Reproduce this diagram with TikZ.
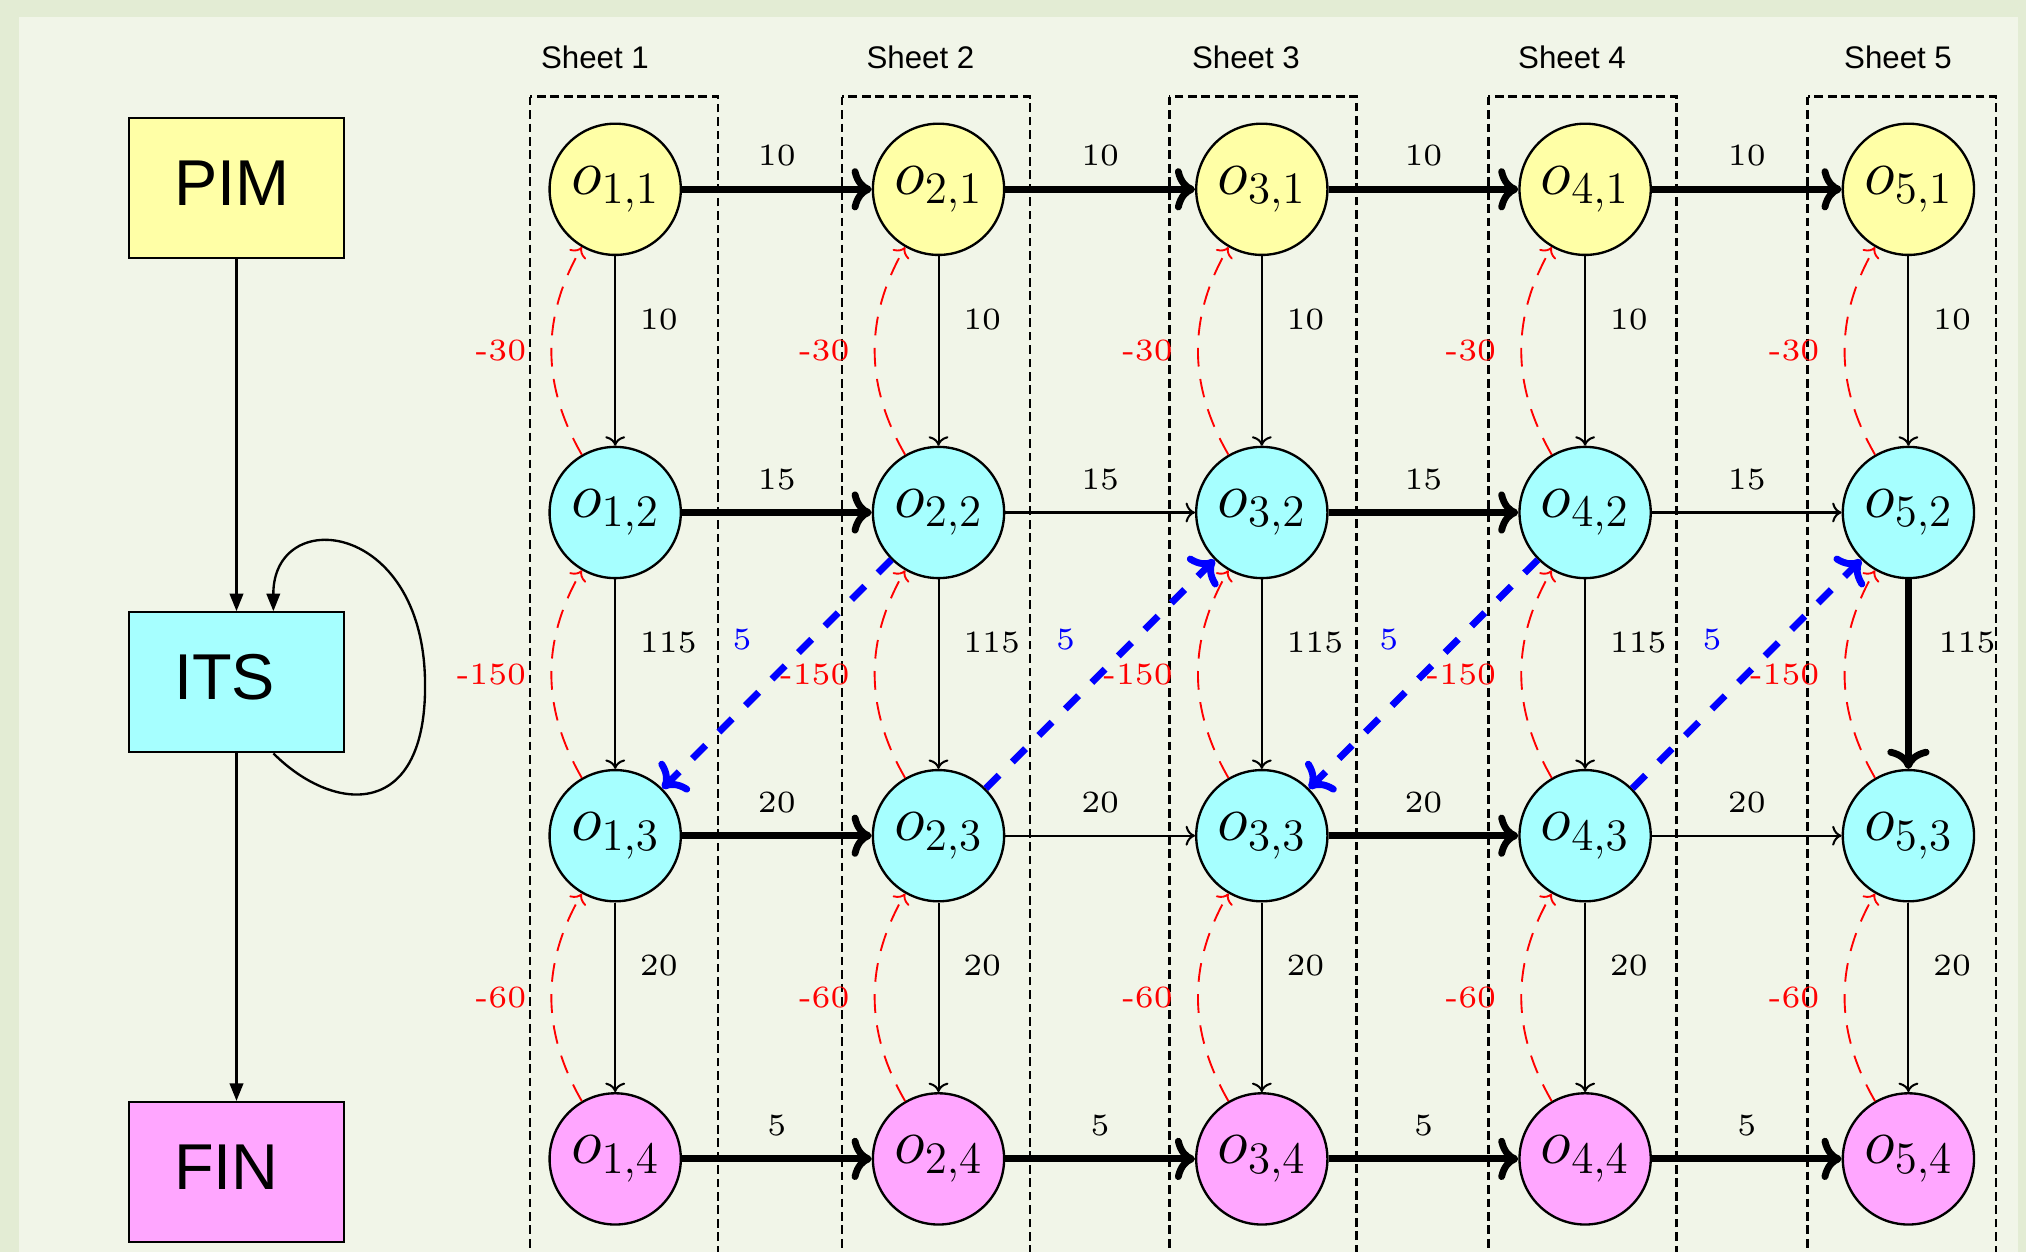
\documentclass[tikz,border=0pt]{standalone}
\usepackage{fontspec}
\newfontfamily\sheetfont{Liberation Sans}
\newfontfamily\weightfont{lmroman6-regular.otf}
\usetikzlibrary{arrows.meta}
\definecolor{framegreen}{RGB}{227,236,212}
\definecolor{panelgreen}{RGB}{241,245,232}
\definecolor{opyellow}{RGB}{255,255,166}
\definecolor{opcyan}{RGB}{166,255,255}
\definecolor{oppink}{RGB}{255,166,255}
\begin{document}
\begin{tikzpicture}[x=0.32pt, y=-0.32pt,
  op/.style={circle, draw, line width=0.75pt, minimum size=42pt, inner sep=0pt, font=\huge},
  stagebox/.style={rectangle, draw, line width=0.7pt, minimum width=68.8pt,
    minimum height=44.8pt, text width=40pt, inner xsep=14.4pt, align=left,
    font=\sheetfont\huge, text depth=3.2pt},
  flow/.style={line width=0.75pt, -{Triangle[length=5.6pt,width=4.3pt]}},
  sheetline/.style={line width=0.8pt, dash pattern=on 2.8pt off 1.5pt},
  sheetlab/.style={anchor=base, inner sep=0pt, font=\sheetfont},
  lightedge/.style={line width=0.65pt, -{Computer Modern Rightarrow}},
  heavyedge/.style={line width=2.2pt, -{Computer Modern Rightarrow}},
  backedge/.style={red, line width=0.6pt, dash pattern=on 6pt off 4pt, -{Computer Modern Rightarrow}},
  jumpedge/.style={blue, line width=2.2pt, dash pattern=on 6pt off 6pt, -{Computer Modern Rightarrow}},
  weight/.style={inner sep=0pt, font=\fontsize{9.9pt}{12pt}\weightfont},
  hlab/.style={weight, anchor=base, yshift=7.5pt},
  vlab/.style={weight, anchor=west, xshift=7.6pt},
  rlab/.style={weight, red, anchor=east, xshift=-7.8pt},
  blab/.style={weight, blue, xshift=-11.1pt, yshift=11.1pt}]

% page background with its frame
\useasboundingbox (0,0) rectangle (2026,1252);
\fill[framegreen] (0,0) rectangle (2026,1252);
\fill[panelgreen] (19,16.7) rectangle (2017.7,1252);

% sheet frames and titles
\foreach \l/\r/\c [count=\s] in {529.8/718.2/595, 842/1030/920.5, 1169.3/1356.7/1246,
    1488.4/1676.5/1572, 1807.6/1995.8/1898} {
  \draw[sheetline] (\l,96.7) rectangle (\r,1260);
  \node[sheetlab] (sheet\s) at (\c,68.3) {Sheet \s};
}

% operation nodes
\foreach \i in {1,...,5} {
  \foreach \j/\col in {1/opyellow, 2/opcyan, 3/opcyan, 4/oppink} {
    \pgfmathsetmacro{\px}{615.2+323.3*(\i-1)}
    \pgfmathsetmacro{\py}{189.3+323.2*(\j-1)}
    \node[op, fill=\col] (o-\i-\j) at (\px,\py) {$o_{\i,\j}$};
  }
}

% horizontal transitions
\foreach \i/\n/\st in {1/2/heavyedge, 2/3/heavyedge, 3/4/heavyedge, 4/5/heavyedge}
  \draw[\st] (o-\i-1) -- node[hlab] {10} (o-\n-1);
\foreach \i/\n/\st in {1/2/heavyedge, 2/3/lightedge, 3/4/heavyedge, 4/5/lightedge}
  \draw[\st] (o-\i-2) -- node[hlab] {15} (o-\n-2);
\foreach \i/\n/\st in {1/2/heavyedge, 2/3/lightedge, 3/4/heavyedge, 4/5/lightedge}
  \draw[\st] (o-\i-3) -- node[hlab] {20} (o-\n-3);
\foreach \i/\n/\st in {1/2/heavyedge, 2/3/heavyedge, 3/4/heavyedge, 4/5/heavyedge}
  \draw[\st] (o-\i-4) -- node[hlab] {5} (o-\n-4);

% vertical transitions
\foreach \i in {1,...,5} {
  \draw[lightedge] (o-\i-1) -- node[vlab, pos=0.333] {10} (o-\i-2);
  \draw[lightedge] (o-\i-3) -- node[vlab, pos=0.333] {20} (o-\i-4);
}
\foreach \i in {1,...,4}
  \draw[lightedge] (o-\i-2) -- node[vlab, pos=0.333] {115} (o-\i-3);
\draw[heavyedge] (o-5-2) -- node[vlab, pos=0.333, xshift=1pt] {115} (o-5-3);

% backward transitions
\foreach \i in {1,...,5} {
  \draw[backedge] (o-\i-2) to[bend left=30] node[rlab] {-30} (o-\i-1);
  \draw[backedge] (o-\i-3) to[bend left=30] node[rlab] {-150} (o-\i-2);
  \draw[backedge] (o-\i-4) to[bend left=30] node[rlab] {-60} (o-\i-3);
}

% sheet changes
\draw[jumpedge] (o-2-2) -- node[blab] {5} (o-1-3);
\draw[jumpedge] (o-2-3) -- node[blab] {5} (o-3-2);
\draw[jumpedge] (o-4-2) -- node[blab] {5} (o-3-3);
\draw[jumpedge] (o-4-3) -- node[blab] {5} (o-5-2);

% stage boxes
\node[stagebox, fill=opyellow] (pim) at (236.5,188) {PIM};
\node[stagebox, fill=opcyan] (its) at (236.5,682.3) {ITS};
\node[stagebox, fill=oppink] (fin) at (236.5,1172) {FIN};
\draw[flow] (pim) -- (its);
\draw[flow] (its) -- (fin);
\draw[flow] ([xshift=11.8pt]its.south) .. controls (335,815) and (428,820) .. (425,680)
  .. controls (422,520) and (273,505) .. ([xshift=11.8pt]its.north);
\end{tikzpicture}
\end{document}
